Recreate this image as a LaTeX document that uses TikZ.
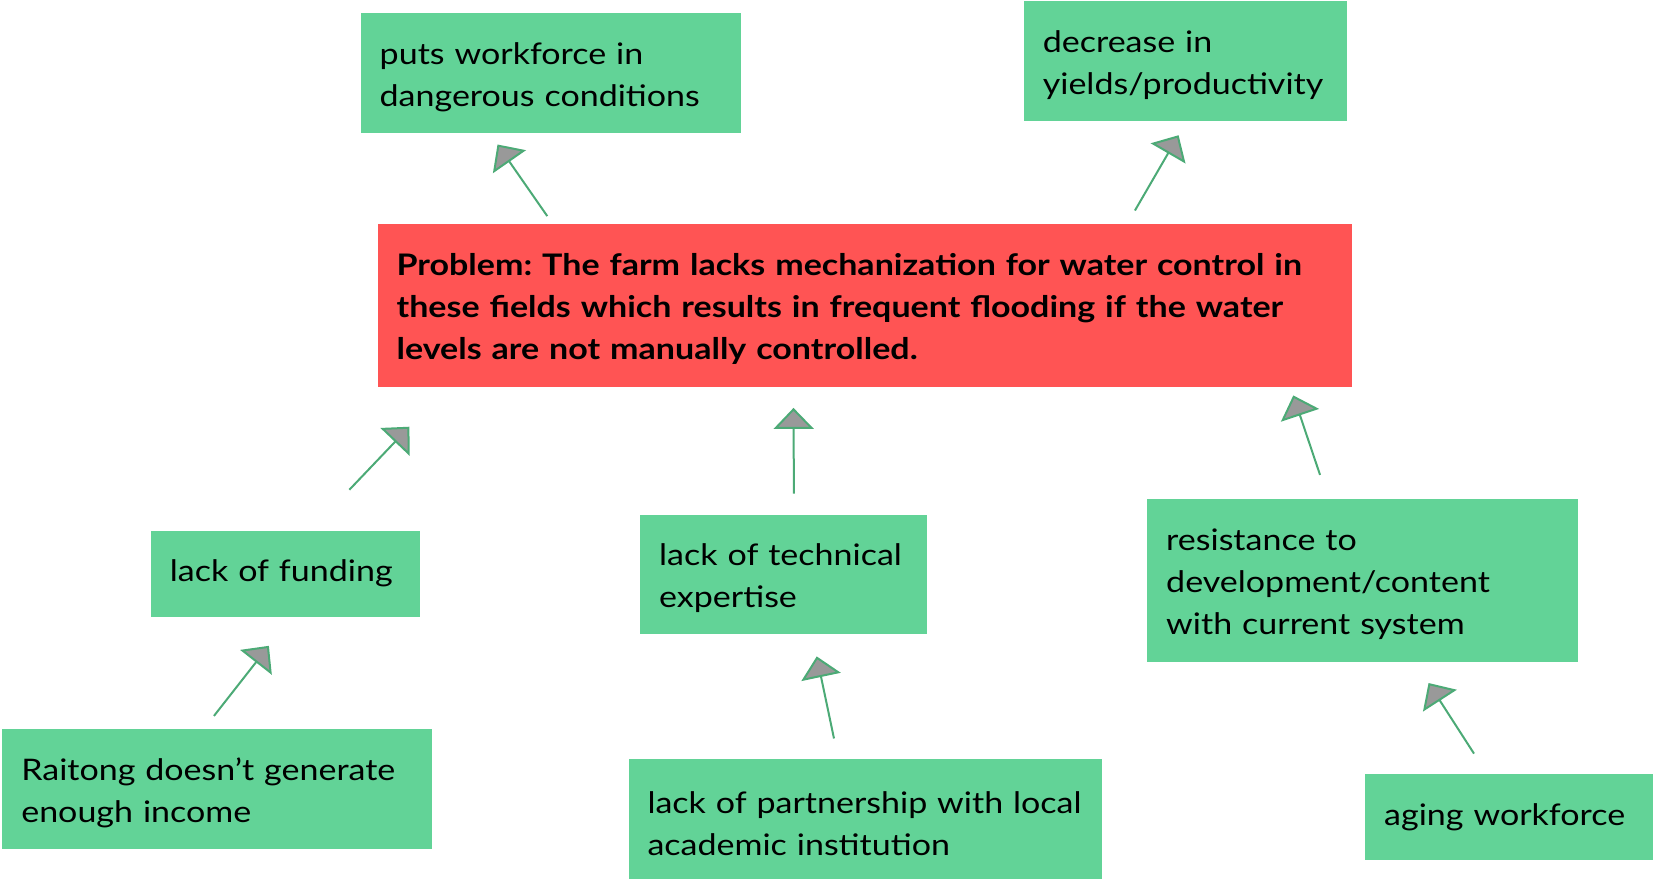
\documentclass[tikz,border=0pt]{standalone}
\usepackage{fontspec}
\setmainfont{Lato}[FakeStretch=1.145]
\usetikzlibrary{arrows.meta}
\definecolor{boxgreen}{RGB}{98,211,151}
\definecolor{probred}{RGB}{255,84,84}
\definecolor{arrgreen}{RGB}{76,170,118}
\definecolor{tipgray}{RGB}{153,153,153}
\frenchspacing

\begin{document}
\begin{tikzpicture}[x=1pt,y=-1pt,
    card/.style={fill=boxgreen,anchor=north west,align=left,inner xsep=19pt,inner ysep=0pt,
                 font=\fontsize{29.7}{42}\selectfont},
    tallcard/.style={card,text height=30pt},
    link/.style={draw=arrgreen,line width=2pt,-{Triangle[length=21pt,width=40pt,fill=tipgray]}}]
    \useasboundingbox (0,0) rectangle (1653,880);

    % effects
    \node[tallcard,text width=342pt,minimum height=120pt] (puts) at (360.5,12.6) {puts workforce in\\dangerous conditions};
    \node[tallcard,text width=285pt,minimum height=120pt] (decr) at (1023.6,1) {decrease in\\yields/productivity};

    % problem
    \node[tallcard,fill=probred,text width=936pt,minimum height=163pt,font=\fontsize{29.7}{42}\selectfont\bfseries] (prob) at (377.4,223.5)
        {Problem: The farm lacks mechanization for water control in\\these fields which results in frequent flooding if the water\\levels are not manually controlled.};

    % causes
    \node[card,text width=231pt,minimum height=86pt] (fund) at (150.7,530.3) {lack of funding};
    \node[tallcard,text width=249pt,minimum height=119pt] (tech) at (640,514.5) {lack of technical\\expertise};
    \node[tallcard,text width=393pt,minimum height=163pt] (resist) at (1147,498.6) {resistance to\\development/content\\with current system};
    \node[tallcard,text width=392pt,minimum height=120pt] (rait) at (2.1,728.5) {Raitong doesn’t generate\\enough income};
    \node[tallcard,text width=435pt,minimum height=120pt] (partner) at (628.3,759) {lack of partnership with local\\academic institution};
    \node[card,text width=250pt,minimum height=86pt] (aging) at (1365,773.8) {aging workforce};

    \draw[link,shorten <=9pt,shorten >=14pt] ([xshift=175pt]prob.north west) -- ([xshift=129pt]puts.south west);
    \draw[link,shorten <=15pt,shorten >=16pt] ([xshift=750pt]prob.north west) -- ([xshift=163pt]decr.south west);
    \draw[link,shorten <=56pt,shorten >=55pt] ([xshift=160pt]fund.north west) -- ([xshift=70pt]prob.south west);
    \draw[link,shorten <=21pt,shorten >=21pt] ([xshift=154pt]tech.north west) -- ([xshift=416pt]prob.south west);
    \draw[link,shorten <=25pt,shorten >=9pt] ([xshift=181pt]resist.north west) -- ([xshift=913pt]prob.south west);
    \draw[link,shorten <=16pt,shorten >=37pt] ([xshift=202pt]rait.north west) -- ([xshift=141pt]fund.south west);
    \draw[link,shorten <=21pt,shorten >=23pt] ([xshift=210pt]partner.north west) -- ([xshift=172pt]tech.south west);
    \draw[link,shorten <=24pt,shorten >=25pt] ([xshift=122pt]aging.north west) -- ([xshift=268pt]resist.south west);
\end{tikzpicture}
\end{document}
